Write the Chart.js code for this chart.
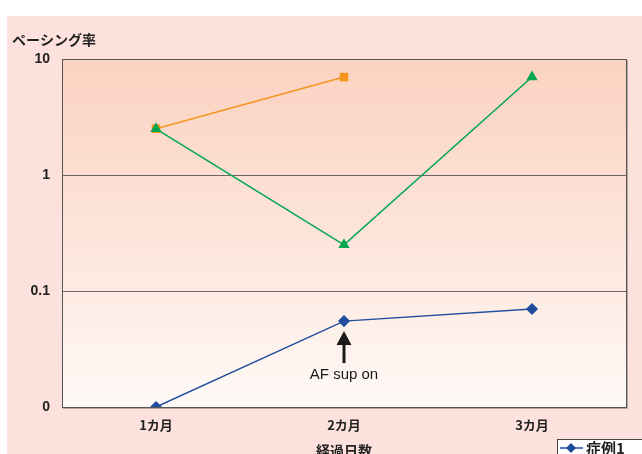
<!DOCTYPE html>
<html>
<head>
<meta charset="utf-8">
<script src="https://cdn.jsdelivr.net/npm/chart.js@4"></script>
<style>
  html, body { margin: 0; padding: 0; background: #fff; }
  #wrap { width: 642px; height: 454px; position: relative; overflow: hidden; }
</style>
</head>
<body>
<div id="wrap"><canvas id="chart" width="642" height="454"></canvas></div>
<script>
// データ
const months = ['1カ月', '2カ月', '3カ月'];
const case1 = [0.01, 0.055, 0.07];      // 症例1 (0 は 0.01 として表示)
const case2 = [2.5, 7.0, null];
const case3 = [2.5, 0.25, 7.0];
const yTicks = [0.01, 0.1, 1, 10];
const yTickLabels = ['0', '0.1', '1', '10'];

const JP = '"Noto Sans CJK JP", "Noto Sans", sans-serif';
const NUM = '"Liberation Sans", Arial, sans-serif';

// 背景・枠・注釈・凡例
const decoPlugin = {
    id: 'deco',
    beforeDraw(chart) {
        const { ctx, chartArea: a } = chart;
        ctx.save();
        ctx.fillStyle = '#fde1dc';
        ctx.fillRect(7, 16, chart.width, chart.height);
        const g = ctx.createLinearGradient(0, a.top, 0, a.bottom);
        g.addColorStop(0, '#fbd2c1');
        g.addColorStop(0.55, '#fde6dc');
        g.addColorStop(1, '#fffaf7');
        ctx.fillStyle = g;
        ctx.fillRect(a.left, a.top, a.right - a.left, a.bottom - a.top);
        ctx.restore();
    },
    afterDatasetsDraw(chart) {
        const { ctx, chartArea: a } = chart;
        ctx.save();
        // プロット枠
        ctx.strokeStyle = '#b8a8a4';
        ctx.lineWidth = 1;
        ctx.beginPath();
        ctx.moveTo(a.right + 1.5, a.top + 1);
        ctx.lineTo(a.right + 1.5, a.bottom + 1.5);
        ctx.lineTo(a.left + 1, a.bottom + 1.5);
        ctx.stroke();
        ctx.strokeStyle = '#555';
        ctx.strokeRect(a.left + 0.5, a.top + 0.5, a.right - a.left, a.bottom - a.top);

        // 矢印と注釈
        const x = chart.scales.x.getPixelForValue(1);
        const py = chart.scales.y.getPixelForValue(case1[1]);
        ctx.fillStyle = '#1a1a1a';
        ctx.strokeStyle = '#1a1a1a';
        ctx.lineWidth = 3;
        ctx.beginPath();
        ctx.moveTo(x, py + 20);
        ctx.lineTo(x, py + 42);
        ctx.stroke();
        ctx.beginPath();
        ctx.moveTo(x, py + 10);
        ctx.lineTo(x - 7.5, py + 24);
        ctx.lineTo(x + 7.5, py + 24);
        ctx.closePath();
        ctx.fill();
        ctx.font = '15px ' + NUM;
        ctx.textAlign = 'center';
        ctx.textBaseline = 'middle';
        ctx.fillText('AF sup on', x, py + 54);

        // 軸タイトル
        ctx.fillStyle = '#222';
        ctx.font = 'bold 14px ' + JP;
        ctx.textAlign = 'left';
        ctx.fillText('ペーシング率', 12, 40);
        ctx.textAlign = 'center';
        ctx.fillText('経過日数', (a.left + a.right) / 2, 451);

        // 凡例
        ctx.fillStyle = '#fff';
        ctx.fillRect(557, 439, 100, 40);
        ctx.strokeStyle = '#444';
        ctx.lineWidth = 1;
        ctx.strokeRect(557.5, 439.5, 100, 40);
        ctx.strokeStyle = '#1f4e9e';
        ctx.lineWidth = 1.5;
        ctx.beginPath();
        ctx.moveTo(560, 448);
        ctx.lineTo(583, 448);
        ctx.stroke();
        ctx.fillStyle = '#1f4e9e';
        ctx.beginPath();
        ctx.moveTo(571, 443);
        ctx.lineTo(576, 448);
        ctx.lineTo(571, 453);
        ctx.lineTo(566, 448);
        ctx.closePath();
        ctx.fill();
        ctx.fillStyle = '#222';
        ctx.font = 'bold 15px ' + JP;
        ctx.textAlign = 'left';
        ctx.fillText('症例1', 586, 448);
        ctx.restore();
    }
};

new Chart(document.getElementById('chart'), {
    type: 'line',
    data: {
        labels: months,
        datasets: [
            { label: '症例1', data: case1, borderColor: '#1f4e9e', backgroundColor: '#1f4e9e',
              borderWidth: 1.5, pointStyle: 'rectRot', pointRadius: 5, pointHoverRadius: 5 },
            { label: '症例3', data: case3, borderColor: '#00a651', backgroundColor: '#00a651',
              borderWidth: 1.5, pointStyle: 'triangle', pointRadius: 5, pointHoverRadius: 5 },
            { label: '症例2', data: case2, borderColor: '#f7941d', backgroundColor: '#f7941d',
              borderWidth: 1.5, pointStyle: 'rect', pointRadius: 5, pointHoverRadius: 5 }
        ]
    },
    options: {
        responsive: false,
        animation: false,
        layout: { padding: { left: 0, top: 59, right: 16, bottom: 0 } },
        plugins: { legend: { display: false }, tooltip: { enabled: false } },
        scales: {
            x: {
                offset: true,
                grid: { display: false, drawTicks: false },
                border: { display: false },
                ticks: { color: '#222', padding: 10, font: { family: JP, size: 13, weight: 'bold' } },
                afterFit(s) { s.height = 47; }
            },
            y: {
                type: 'logarithmic',
                min: 0.01,
                max: 10,
                afterBuildTicks(s) { s.ticks = yTicks.map(v => ({ value: v })); },
                grid: { color: '#6e6666', lineWidth: 1, drawTicks: false },
                border: { display: false },
                ticks: {
                    color: '#222', padding: 12,
                    font: { family: NUM, size: 14, weight: 'bold' },
                    callback: (v) => yTickLabels[yTicks.indexOf(v)] ?? ''
                },
                afterFit(s) { s.width = 62; }
            }
        }
    },
    plugins: [decoPlugin]
});
</script>
</body>
</html>
